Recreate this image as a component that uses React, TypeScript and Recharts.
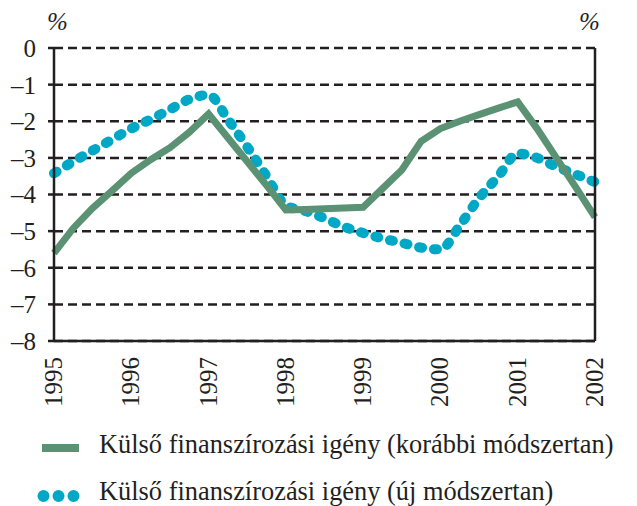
import React from 'react';
import { LineChart, Line, XAxis, YAxis, CartesianGrid } from 'recharts';

const quarters = [
  1995, 1995.25, 1995.5, 1995.75,
  1996, 1996.25, 1996.5, 1996.75,
  1997, 1997.25, 1997.5, 1997.75,
  1998, 1998.25, 1998.5, 1998.75,
  1999, 1999.25, 1999.5, 1999.75,
  2000, 2000.25, 2000.5, 2000.75,
  2001, 2001.25, 2001.5, 2001.75,
  2002,
];

// Külső finanszírozási igény (korábbi módszertan)
const oldMethod = [
  -5.6, -4.92, -4.37, -3.9,
  -3.42, -3.05, -2.72, -2.3,
  -1.8, -2.45, -3.1, -3.75,
  -4.42, -4.41, -4.39, -4.37,
  -4.35, -3.84, -3.33, -2.55,
  -2.2, -2.0, -1.82, -1.64,
  -1.47, -2.2, -3.0, -3.8,
  -4.62,
];

// Külső finanszírozási igény (új módszertan)
const newMethod = [
  -3.42, -3.1, -2.8, -2.5,
  -2.2, -1.95, -1.68, -1.4,
  -1.28, -1.95, -2.7, -3.5,
  -4.3, -4.45, -4.65, -4.88,
  -5.05, -5.2, -5.32, -5.45,
  -5.5, -4.85, -4.1, -3.5,
  -2.88, -3.0, -3.24, -3.45,
  -3.66,
];

const yearTicks = [1995, 1996, 1997, 1998, 1999, 2000, 2001, 2002];
const valueTicks = [0, -1, -2, -3, -4, -5, -6, -7, -8];

const seriesNames = [
  'Külső finanszírozási igény (korábbi módszertan)',
  'Külső finanszírozási igény (új módszertan)',
];

const GREEN = '#5b9274';
const BLUE = '#00a8c6';
const INK = '#231f20';
const FONT = '"Liberation Serif", "Times New Roman", serif';

const data = quarters.map((q, i) => ({ q, old: oldMethod[i], neu: newMethod[i] }));

const fmt = (v: number) => (v === 0 ? '0' : '–' + Math.abs(v));

const YearTick = (props: any) => {
  const { x, y, payload } = props;
  return (
    <text
      x={x}
      y={y}
      dy={8}
      transform={`rotate(-90 ${x} ${y})`}
      textAnchor="end"
      fill={INK}
      fontSize={25}
      fontFamily={FONT}
    >
      {payload.value}
    </text>
  );
};

const tickStyle = { fill: INK, fontSize: 25, fontFamily: FONT };

export default function App() {
  return (
    <div style={{ position: 'absolute', left: 0, top: 0, width: 637, height: 506, background: '#fff' }}>
      <LineChart width={637} height={506} data={data} margin={{ top: 48, right: 0, bottom: 0, left: 0 }}>
        <CartesianGrid vertical={false} stroke={INK} strokeWidth={2.5} strokeDasharray="9 5" yAxisId="left" />
        <XAxis
          dataKey="q"
          type="number"
          domain={[1995, 2002]}
          ticks={yearTicks}
          height={165}
          tickLine={false}
          tickSize={0}
          tickMargin={16}
          axisLine={{ stroke: INK, strokeWidth: 2.5 }}
          tick={<YearTick />}
          interval={0}
        />
        <YAxis
          yAxisId="left"
          width={54}
          domain={[-8, 0]}
          ticks={valueTicks}
          tickFormatter={fmt}
          tickSize={6}
          tickMargin={12}
          tickLine={{ stroke: INK, strokeWidth: 2.5 }}
          axisLine={{ stroke: INK, strokeWidth: 2.5 }}
          tick={tickStyle}
          interval={0}
        />
        <YAxis
          yAxisId="right"
          orientation="right"
          width={42}
          domain={[-8, 0]}
          ticks={valueTicks}
          tickFormatter={fmt}
          tickSize={6}
          tickMargin={8}
          tickLine={{ stroke: INK, strokeWidth: 2.5 }}
          axisLine={{ stroke: INK, strokeWidth: 2.5 }}
          tick={tickStyle}
          interval={0}
        />
        <Line
          yAxisId="left"
          dataKey="neu"
          type="monotone"
          stroke={BLUE}
          strokeWidth={10}
          strokeDasharray="3 12"
          strokeLinecap="round"
          dot={false}
          activeDot={false}
          isAnimationActive={false}
        />
        <Line
          yAxisId="left"
          dataKey="old"
          type="linear"
          stroke={GREEN}
          strokeWidth={7}
          strokeLinejoin="miter"
          dot={false}
          activeDot={false}
          isAnimationActive={false}
        />
      </LineChart>
      <svg
        width={637}
        height={506}
        style={{ position: 'absolute', left: 0, top: 0, pointerEvents: 'none' }}
        fontFamily={FONT}
        fill={INK}
      >
        <text x={47} y={30} fontSize={25} fontStyle="italic">%</text>
        <text x={579} y={30} fontSize={25} fontStyle="italic">%</text>
        <line x1={42} x2={79} y1={448} y2={448} stroke={GREEN} strokeWidth={8} />
        <text x={99} y={453} fontSize={26.4}>{seriesNames[0]}</text>
        <line
          x1={43.5}
          x2={73.6}
          y1={496}
          y2={496}
          stroke={BLUE}
          strokeWidth={12}
          strokeLinecap="round"
          strokeDasharray="0 15"
        />
        <text x={99} y={500} fontSize={26.4}>{seriesNames[1]}</text>
      </svg>
    </div>
  );
}
